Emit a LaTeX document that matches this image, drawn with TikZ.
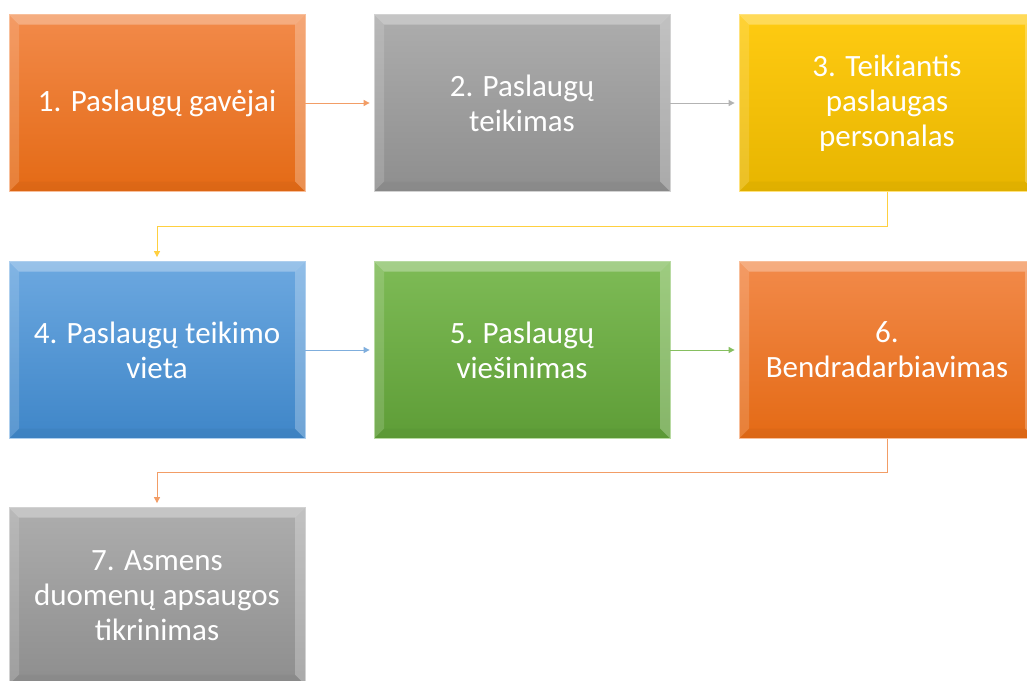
\documentclass[tikz,border=0pt]{standalone}
\usepackage{fontspec}
\setmainfont{Carlito}
\usepackage{tikz}
\usetikzlibrary{calc,arrows.meta}
\definecolor{orgtop}{HTML}{F28A4A}
\definecolor{orgbot}{HTML}{E46A15}
\definecolor{grytop}{HTML}{ADADAD}
\definecolor{grybot}{HTML}{8E8E8E}
\definecolor{yeltop}{HTML}{FFCB12}
\definecolor{yelbot}{HTML}{E7B500}
\definecolor{blutop}{HTML}{6CA8E0}
\definecolor{blubot}{HTML}{3F86C8}
\definecolor{grntop}{HTML}{7EBB56}
\definecolor{grnbot}{HTML}{5E9D37}
\definecolor{orgline}{HTML}{F29D66}
\definecolor{gryline}{HTML}{B3B3B3}
\definecolor{yelline}{HTML}{FFD040}
\definecolor{bluline}{HTML}{7FAEDD}
\definecolor{grnline}{HTML}{86BF60}

\tikzset{
  stepbox/.style 2 args={minimum width=296pt, minimum height=177pt,
    inner sep=0pt, align=center, text=white,
    font=\fontsize{31}{35}\selectfont,
    top color=#1, bottom color=#2, draw=#1!55!white, line width=.8pt,
    path picture={
      \coordinate (nw) at (path picture bounding box.north west);
      \coordinate (se) at (path picture bounding box.south east);
      \fill[white,opacity=.3] (nw) -- (nw-|se) -- ($(nw-|se)+(-10pt,-10pt)$)
        -- ($(nw)+(10pt,-10pt)$) -- cycle;
      \fill[white,opacity=.15] (nw) -- ($(nw)+(10pt,-10pt)$)
        -- ($(nw|-se)+(10pt,10pt)$) -- (nw|-se) -- cycle;
      \fill[white,opacity=.25] (nw-|se) -- ($(nw-|se)+(-10pt,-10pt)$)
        -- ($(se)+(-10pt,10pt)$) -- (se) -- cycle;
      \fill[black,opacity=.03] (nw|-se) -- ($(nw|-se)+(10pt,10pt)$)
        -- ($(se)+(-10pt,10pt)$) -- (se) -- cycle;
    }},
  link/.style={draw=#1, line width=1pt, shorten >=4pt,
    -{Triangle[length=6pt,width=6pt]}}
}

\begin{document}
\begin{tikzpicture}[x=1pt,y=-1pt]
  \useasboundingbox[fill=white] (0,0) rectangle (1027,680);
  \clip (0,0) rectangle (1027,680);

  % first row
  \node[stepbox={orgtop}{orgbot}] (gavejai) at (157,103) {1. Paslaugų gavėjai};
  \node[stepbox={grytop}{grybot}] (teikimas) at (522,103) {2. Paslaugų\\teikimas};
  \node[stepbox={yeltop}{yelbot}] (personalas) at (887,103) {3. Teikiantis\\paslaugas\\personalas};

  % second row
  \node[stepbox={blutop}{blubot}] (vieta) at (157,350) {4. Paslaugų teikimo\\vieta};
  \node[stepbox={grntop}{grnbot}] (viesinimas) at (522,350) {5. Paslaugų\\viešinimas};
  \node[stepbox={orgtop}{orgbot}] (bendradarb) at (887,350) {6.\\Bendradarbiavimas};

  % third row
  \node[stepbox={grytop}{grybot}] (apsauga) at (157,596) {7. Asmens\\duomenų apsaugos\\tikrinimas};

  \draw[link=orgline] (gavejai.east) -- (teikimas.west);
  \draw[link=gryline] (teikimas.east) -- (personalas.west);
  \draw[link=yelline] (personalas.south) -- ++(0,35) -| (vieta.north);
  \draw[link=bluline] (vieta.east) -- (viesinimas.west);
  \draw[link=grnline] (viesinimas.east) -- (bendradarb.west);
  \draw[link=orgline] (bendradarb.south) -- ++(0,34) -| (apsauga.north);
\end{tikzpicture}
\end{document}
